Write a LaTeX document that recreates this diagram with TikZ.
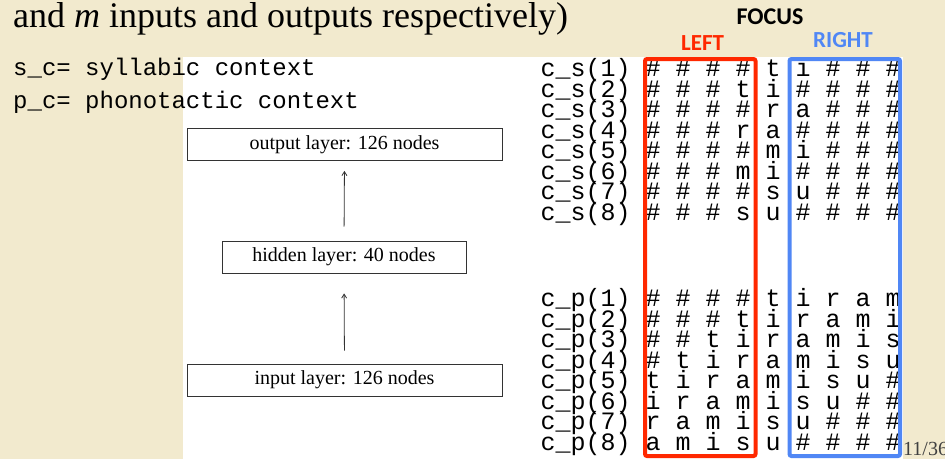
\documentclass[tikz,border=0pt]{standalone}
\usepackage{fontspec}
\setmainfont{Liberation Serif}
\newfontfamily\codefont{Liberation Mono}
\newfontfamily\headfont{Carlito}
\usepackage{tikz}
\usetikzlibrary{arrows.meta}
\definecolor{slidebg}{RGB}{242,234,206}
\definecolor{leftred}{RGB}{255,40,0}
\definecolor{rightblue}{RGB}{80,135,245}

\begin{document}
\begin{tikzpicture}[x=1pt,y=-1pt,
  layer/.style={draw=black!80,line width=0.8pt,minimum height=32pt,inner sep=0pt,font=\fontsize{20}{22}\selectfont},
  feed/.style={draw=black!80,line width=0.8pt,-{Straight Barb[length=4pt,width=5pt]}},
  legend/.style={anchor=base west,inner sep=0pt,font=\codefont\fontsize{24}{24}\selectfont},
  gridrow/.style={anchor=base west,inner sep=0pt,font=\codefont\fontsize{25}{25}\selectfont},
  head/.style={inner sep=0pt,font=\headfont\bfseries\fontsize{#1}{#1}\selectfont},
  frame/.style={line width=4pt,rounded corners=2pt}]

\clip (0,0) rectangle (945,459);
\fill[slidebg] (0,0) rectangle (945,459);
\fill[white] (183,57) rectangle (903,459);

% title and legend
\node[anchor=base west,inner sep=0pt,font=\fontsize{36}{40}\selectfont] (title) at (13,27) {and \textit{m} inputs and outputs respectively)};
\node[legend] (sc) at (13,75) {s\_c= syllabic context};
\node[legend] (pc) at (13,108) {p\_c= phonotactic context};

% network
\node[layer,minimum width=315pt] (output) at (344.5,144.5) {output layer: 126 nodes};
\node[layer,minimum width=244pt] (hidden) at (344,257) {hidden layer: 40 nodes};
\node[layer,minimum width=315pt] (input) at (344.5,380) {input layer: 126 nodes};
\draw[feed,shorten <=14pt,shorten >=10pt] (hidden.north) -- (output.south);
\draw[feed,shorten <=13pt,shorten >=20pt] (input.north) -- (hidden.south);

% context windows
\foreach \k/\row in {1/{\# \# \# \# t i \# \# \#},2/{\# \# \# t i \# \# \# \#},
    3/{\# \# \# \# r a \# \# \#},4/{\# \# \# r a \# \# \# \#},
    5/{\# \# \# \# m i \# \# \#},6/{\# \# \# m i \# \# \# \#},
    7/{\# \# \# \# s u \# \# \#},8/{\# \# \# s u \# \# \# \#}}
  \node[gridrow] (cs\k) at (540.5,{76.5+(\k-1)*20.5}) {c\_s(\k) \row};
\foreach \k/\row in {1/{\# \# \# \# t i r a m},2/{\# \# \# t i r a m i},
    3/{\# \# t i r a m i s},4/{\# t i r a m i s u},
    5/{t i r a m i s u \#},6/{i r a m i s u \# \#},
    7/{r a m i s u \# \# \#},8/{a m i s u \# \# \# \#}}
  \node[gridrow] (cp\k) at (540.5,{306.5+(\k-1)*20.5}) {c\_p(\k) \row};

\draw[frame,leftred] (645,59) rectangle (755.5,456);
\draw[frame,rightblue] (789.5,59) rectangle (900,456);
\node[head=24] (focus) at (770,17) {FOCUS};
\node[head=23,text=leftred] (left) at (702.5,43.5) {LEFT};
\node[head=23,text=rightblue] (right) at (843,40) {RIGHT};

\node[anchor=base west,inner sep=0pt,font=\fontsize{20}{20}\selectfont,text=black!75] (page) at (903,455) {11/36};
\end{tikzpicture}
\end{document}
